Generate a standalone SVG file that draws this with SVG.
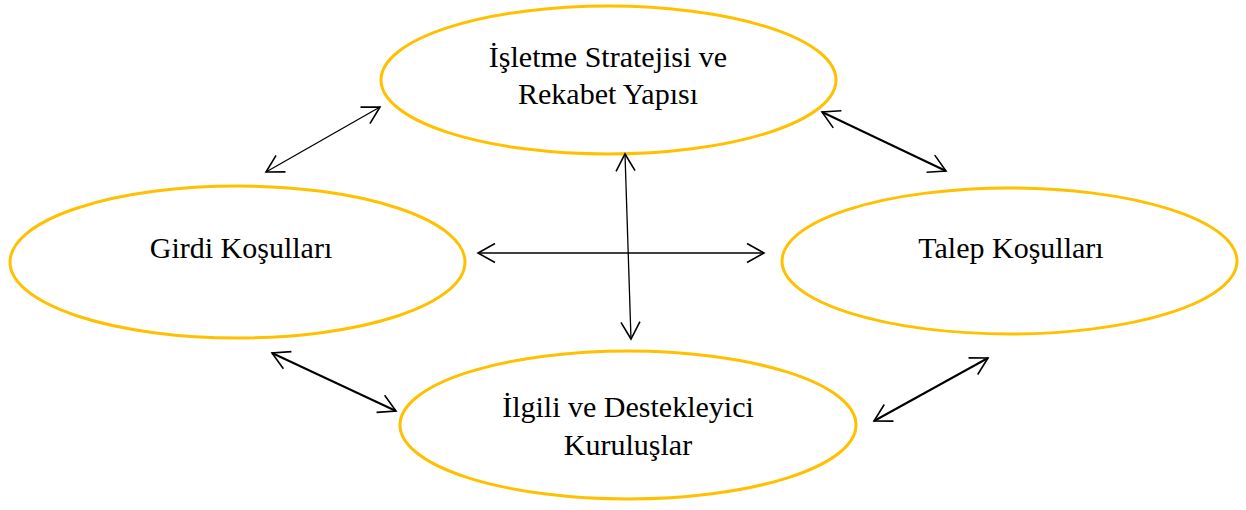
<svg xmlns="http://www.w3.org/2000/svg" width="1246" height="510" viewBox="0 0 1246 510">
<style>
.node ellipse{fill:#fff;stroke:#FFC000;stroke-width:3}
.node text{font-family:"Liberation Serif","Times New Roman",serif;font-size:30px;fill:#000;text-anchor:middle}
.conn line{stroke:#000;fill:none}
.thin{stroke-width:1.3}
.thick{stroke-width:2}
</style>
<defs>
<marker id="ah" markerUnits="userSpaceOnUse" viewBox="-20 -12 24 24" refX="0" refY="0" markerWidth="24" markerHeight="24" orient="auto-start-reverse">
<path d="M -17 -9.5 L 0 0 L -17 9.5" fill="none" stroke="#000" stroke-width="1.6"/>
</marker>
</defs>
<rect width="1246" height="510" fill="#fff"/>
<g id="n-top" class="node">
<ellipse cx="608.5" cy="80" rx="227.5" ry="74"/>
<text x="608" y="67">İşletme Stratejisi ve</text>
<text x="608" y="104">Rekabet Yapısı</text>
</g>
<g id="n-left" class="node">
<ellipse cx="237.5" cy="262" rx="227.5" ry="76"/>
<text x="241" y="258">Girdi Koşulları</text>
</g>
<g id="n-right" class="node">
<ellipse cx="1009.5" cy="261" rx="227.5" ry="73"/>
<text x="1011" y="258">Talep Koşulları</text>
</g>
<g id="n-bottom" class="node">
<ellipse cx="628" cy="425" rx="228" ry="74"/>
<text x="628" y="417">İlgili ve Destekleyici</text>
<text x="628" y="455">Kuruluşlar</text>
</g>
<g id="connectors" class="conn">
<line class="thin" x1="266" y1="172" x2="380" y2="107" marker-start="url(#ah)" marker-end="url(#ah)"/>
<line class="thick" x1="822" y1="112" x2="946" y2="171" marker-start="url(#ah)" marker-end="url(#ah)"/>
<line class="thin" x1="478" y1="253" x2="764" y2="253" marker-start="url(#ah)" marker-end="url(#ah)"/>
<line class="thin" x1="625" y1="154" x2="631" y2="339" marker-start="url(#ah)" marker-end="url(#ah)"/>
<line class="thick" x1="272" y1="353" x2="396" y2="411" marker-start="url(#ah)" marker-end="url(#ah)"/>
<line class="thick" x1="988" y1="358" x2="874" y2="421" marker-start="url(#ah)" marker-end="url(#ah)"/>
</g>
</svg>
